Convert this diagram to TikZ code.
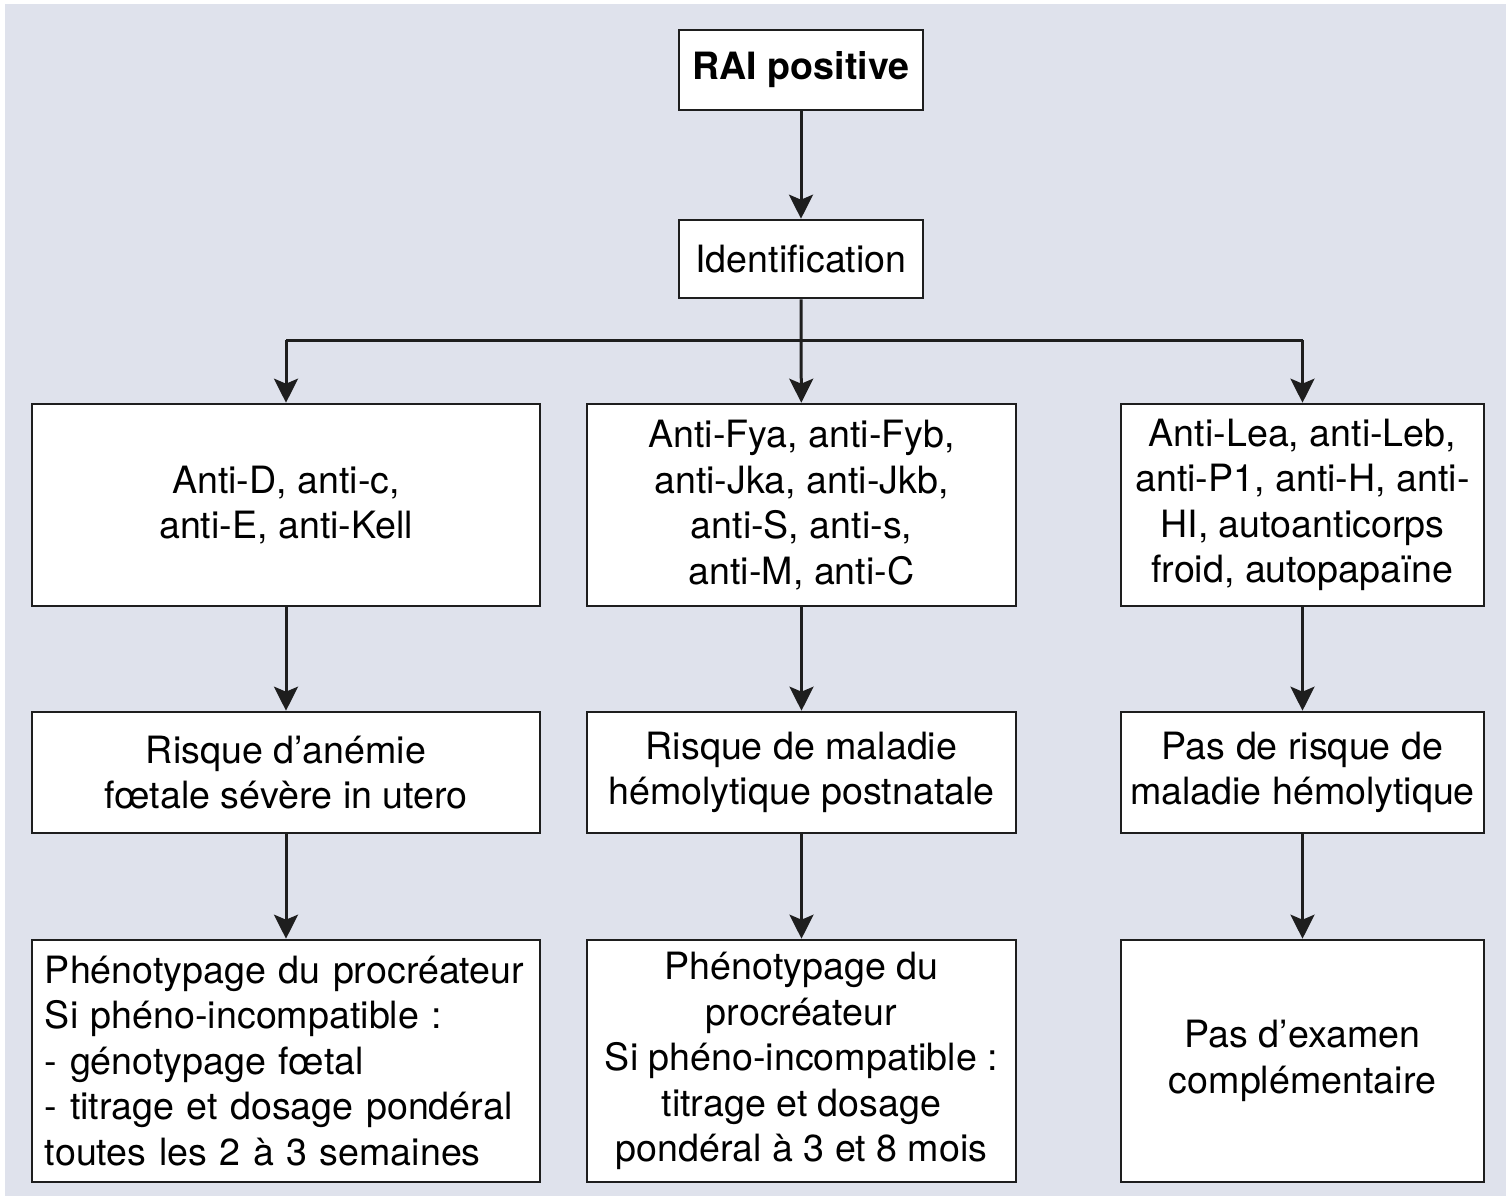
\documentclass[tikz,border=0pt]{standalone}
\usepackage{fontspec}
\setmainfont{TeX Gyre Heros}
\usetikzlibrary{arrows.meta}
\definecolor{bgc}{RGB}{223,226,236}
\definecolor{ln}{RGB}{30,30,30}
\begin{document}
\begin{tikzpicture}[x=0.5pt,y=-0.5pt,
  box/.style={draw=ln,line width=1.3pt,fill=white,inner sep=0pt,
    font=\fontsize{18.8}{22.75}\selectfont,align=center},
  arr/.style={draw=ln,line width=1.5pt,-{Stealth[length=12pt,width=12pt,inset=2.5pt]}},
  conn/.style={draw=ln,line width=1.5pt}]
\useasboundingbox (0,0) rectangle (1506,1196);
\fill[white] (0,0) rectangle (1506,1196);
\fill[bgc] (5,4) rectangle (1506,1196);
% boxes
\node[box,minimum width=122pt,minimum height=40pt,font=\fontsize{18.8}{22.75}\selectfont\bfseries] (rai) at (801,70) {RAI positive};
\node[box,minimum width=122pt,minimum height=39pt] (id) at (801,259) {Identification};
\node[box,minimum width=254pt,minimum height=101pt] (a1) at (286,505) {Anti-D, anti-c,\\anti-E, anti-Kell};
\node[box,minimum width=214.5pt,minimum height=101pt] (b1) at (801.5,505) {Anti-Fya, anti-Fyb,\\anti-Jka, anti-Jkb,\\anti-S, anti-s,\\anti-M, anti-C};
\node[box,minimum width=181.5pt,minimum height=101pt] (c1) at (1302.5,505) {Anti-Lea, anti-Leb,\\anti-P1, anti-H, anti-\\HI, autoanticorps\\froid, autopapaïne};
\node[box,minimum width=254pt,minimum height=60.5pt] (a2) at (286,772.5) {Risque d’anémie\\fœtale sévère in utero};
\node[box,minimum width=214.5pt,minimum height=60.5pt] (b2) at (801.5,772.5) {Risque de maladie\\hémolytique postnatale};
\node[box,minimum width=181.5pt,minimum height=60.5pt] (c2) at (1302.5,772.5) {Pas de risque de\\maladie hémolytique};
\node[box,minimum width=254pt,minimum height=121pt,align=left,text width=241pt] (a3) at (286,1061) {Phénotypage du procréateur\\Si phéno-incompatible :\\- génotypage fœtal\\- titrage et dosage pondéral\\toutes les 2 à 3 semaines};
\node[box,minimum width=214.5pt,minimum height=121pt] (b3) at (801.5,1061) {Phénotypage du\\procréateur\\Si phéno-incompatible :\\titrage et dosage\\pondéral à 3 et 8 mois};
\node[box,minimum width=181.5pt,minimum height=121pt] (c3) at (1302.5,1061) {Pas d’examen\\complémentaire};
% connectors
\coordinate (jl) at (286,340);
\coordinate (jr) at (1302.5,340);
\draw[arr] (rai) -- (id);
\draw[arr] (id) -- (b1);
\draw[conn] (jl) -- (jr);
\draw[arr] (jl) -- (a1);
\draw[arr] (jr) -- (c1);
\draw[arr] (a1) -- (a2);
\draw[arr] (b1) -- (b2);
\draw[arr] (c1) -- (c2);
\draw[arr] (a2) -- (a3);
\draw[arr] (b2) -- (b3);
\draw[arr] (c2) -- (c3);
\end{tikzpicture}
\end{document}
